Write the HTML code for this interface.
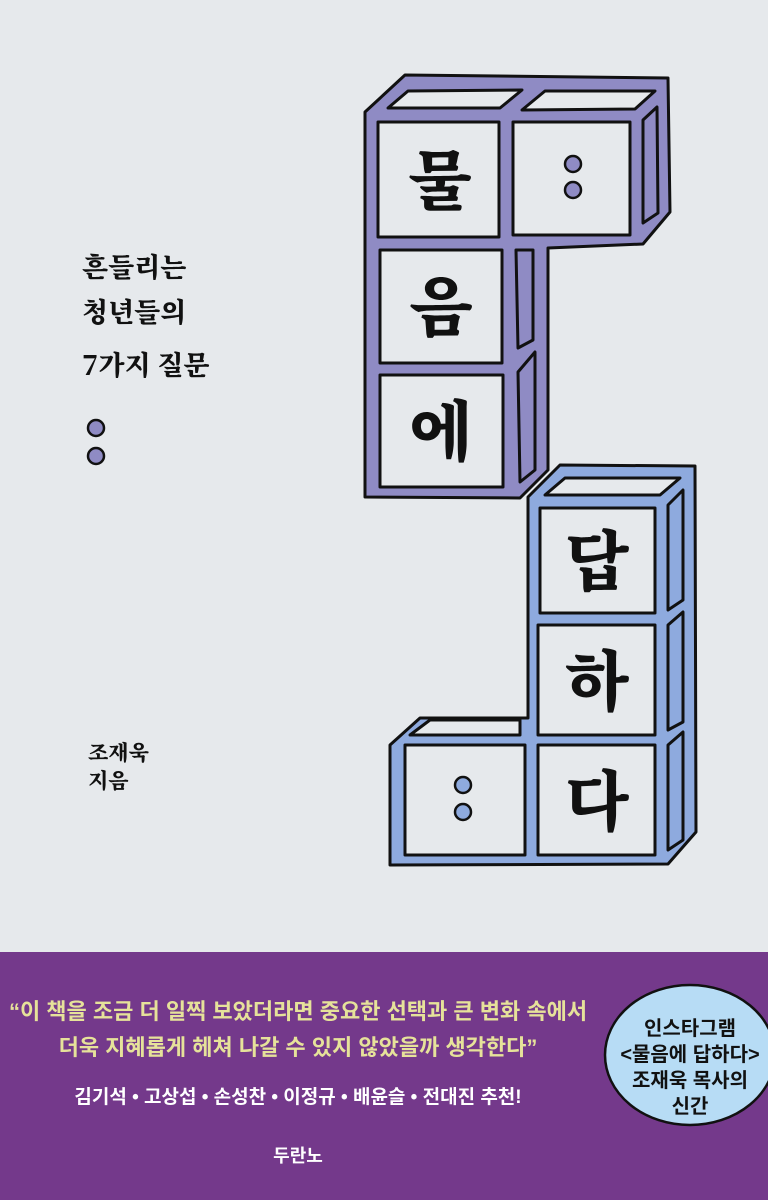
<!DOCTYPE html>
<html><head><meta charset="utf-8"><style>
body{margin:0;width:768px;height:1200px;overflow:hidden;background:#e6e9ec}
svg{display:block}
.s{font-family:"Noto Serif CJK SC","Liberation Serif",serif;font-weight:900}
.k{font-family:"Liberation Sans","Noto Sans CJK KR",sans-serif;font-weight:700}
</style></head><body>
<svg width="768" height="1200" viewBox="0 0 768 1200">
<rect width="768" height="1200" fill="#e6e9ec"/>
<g stroke="#111" stroke-width="3" stroke-linejoin="round">
<path d="M365,112 L405,75 L668,78 L670,212 L643,244 L548,248 L548,470 L520,498 L365,497 Z" fill="#8f8bc4"/>
<path d="M388,108 L408,91 L522,90 L500,108 Z" fill="#e6e9ec"/>
<path d="M522,110 L545,91 L655,91 L635,109 Z" fill="#e6e9ec"/>
<path d="M643,120 L657,107 L658,213 L643,223 Z" fill="#8f8bc4"/>
<path d="M516,250 L533,250 L533,340 L518,348 Z" fill="#8f8bc4"/>
<path d="M518,372 L535,352 L535,470 L520,482 Z" fill="#8f8bc4"/>
<rect x="378" y="122" width="121" height="115" fill="#e6e9ec"/>
<rect x="513" y="122" width="117" height="113" fill="#e6e9ec"/>
<rect x="380" y="250" width="122" height="113" fill="#e6e9ec"/>
<rect x="380" y="375" width="123" height="112" fill="#e6e9ec"/>
<path d="M528,497 L560,465 L695,466 L696,832 L668,864 L390,865 L390,745 L420,718 L528,718 Z" fill="#8eaade"/>
<path d="M545,495 L565,478 L680,478 L660,495 Z" fill="#e6e9ec"/>
<path d="M410,735 L430,720 L520,720 L520,735 Z" fill="#e6e9ec"/>
<path d="M668,505 L683,490 L683,600 L668,610 Z" fill="#8eaade"/>
<path d="M668,625 L683,612 L683,722 L668,730 Z" fill="#8eaade"/>
<path d="M668,745 L683,732 L683,840 L668,850 Z" fill="#8eaade"/>
<rect x="540" y="508" width="115" height="105" fill="#e6e9ec"/>
<rect x="538" y="625" width="117" height="110" fill="#e6e9ec"/>
<rect x="538" y="745" width="117" height="110" fill="#e6e9ec"/>
<rect x="405" y="745" width="120" height="110" fill="#e6e9ec"/>
</g>
<g stroke="#111" stroke-width="2.5" fill="#8f8bc4">
<circle cx="573" cy="164" r="8"/><circle cx="573" cy="190" r="8"/>
<circle cx="96" cy="428" r="8"/><circle cx="96" cy="456" r="8"/>
<circle cx="463" cy="785" r="8" fill="#8eaade"/><circle cx="463" cy="812" r="8" fill="#8eaade"/>
</g>
<g class="s" font-size="66" fill="#111" text-anchor="middle">
<text x="440" y="204">물</text>
<text x="441" y="330">음</text>
<text x="441" y="455">에</text>
<text x="597" y="585">답</text>
<text x="597" y="705">하</text>
<text x="597" y="825">다</text>
</g>
<g class="s" font-size="27" fill="#111">
<text x="82" y="277">흔들리는</text>
<text x="82" y="322">청년들의</text>
<text x="82" y="375">7가지 질문</text>
<text x="88" y="760" font-size="21">조재욱</text>
<text x="88" y="788" font-size="21">지음</text>
</g>
<rect x="0" y="952" width="768" height="248" fill="#74398b"/>
<ellipse cx="690" cy="1055" rx="85" ry="70" fill="#b7dcf5" stroke="#111" stroke-width="2.5"/>
<g class="k" text-anchor="middle" font-size="20" fill="#111">
<text x="690" y="1035">인스타그램</text>
<text x="690" y="1061">&lt;물음에 답하다&gt;</text>
<text x="690" y="1087">조재욱 목사의</text>
<text x="690" y="1113">신간</text>
</g>
<g class="k" text-anchor="middle">
<text x="298" y="1019" font-size="22" fill="#e6e29a">“이 책을 조금 더 일찍 보았더라면 중요한 선택과 큰 변화 속에서</text>
<text x="298" y="1055" font-size="22" fill="#e6e29a">더욱 지혜롭게 헤쳐 나갈 수 있지 않았을까 생각한다”</text>
<text x="298" y="1103" font-size="19" fill="#fff">김기석 • 고상섭 • 손성찬 • 이정규 • 배윤슬 • 전대진 추천!</text>
<text x="298" y="1162" font-size="18" fill="#fff">두란노</text>
</g>
</svg>
</body></html>
